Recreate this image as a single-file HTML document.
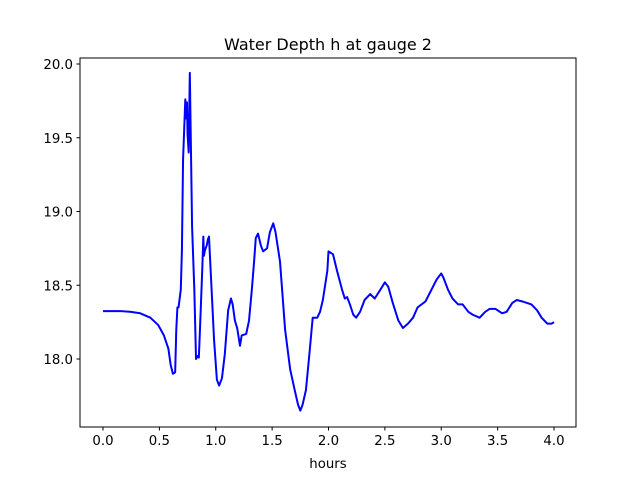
<!DOCTYPE html>
<html><head><meta charset="utf-8"><style>
body{margin:0;background:#fff}
svg{display:block;font-family:"DejaVu Sans","Liberation Sans",sans-serif}
</style></head><body>
<svg id="chart" width="640" height="480" viewBox="0 0 640 480">
<rect width="640" height="480" fill="#fff"/>
<text x="328" y="50" text-anchor="middle" font-size="16">Water Depth h at gauge 2</text>
<text x="328" y="468" text-anchor="middle" font-size="13.3">hours</text>
<g id="plot"></g>
<rect x="80" y="58" width="496" height="369" fill="none" stroke="#000" stroke-width="1"/>
</svg>
<script>
const hours=[0,0.15,0.24,0.33,0.42,0.49,0.54,0.58,0.60,0.62,0.64,0.65,0.66,0.67,0.69,0.70,0.71,0.73,0.74,0.745,0.75,0.76,0.77,0.78,0.79,0.81,0.825,0.84,0.85,0.86,0.88,0.89,0.895,0.905,0.92,0.93,0.94,0.96,0.985,1.01,1.03,1.055,1.08,1.11,1.135,1.15,1.17,1.19,1.215,1.23,1.27,1.295,1.32,1.34,1.355,1.375,1.40,1.42,1.455,1.48,1.51,1.53,1.57,1.615,1.66,1.70,1.73,1.75,1.77,1.80,1.83,1.86,1.90,1.925,1.95,1.99,2.00,2.04,2.075,2.12,2.145,2.165,2.19,2.22,2.245,2.28,2.32,2.37,2.41,2.46,2.50,2.53,2.57,2.62,2.66,2.705,2.75,2.79,2.86,2.90,2.96,3.00,3.02,3.06,3.10,3.15,3.19,3.24,3.28,3.34,3.39,3.43,3.48,3.54,3.58,3.63,3.67,3.72,3.76,3.80,3.85,3.89,3.94,3.98,4.00];
const depth=[18.325,18.325,18.32,18.31,18.28,18.23,18.16,18.07,17.96,17.90,17.91,18.20,18.35,18.35,18.47,18.74,19.35,19.76,19.63,19.74,19.52,19.40,19.94,19.42,18.90,18.47,18.0,18.02,18.01,18.20,18.60,18.83,18.70,18.74,18.77,18.81,18.83,18.52,18.13,17.86,17.82,17.87,18.03,18.33,18.41,18.37,18.26,18.21,18.09,18.16,18.17,18.26,18.47,18.66,18.82,18.85,18.77,18.73,18.75,18.86,18.92,18.86,18.66,18.20,17.93,17.79,17.69,17.65,17.69,17.79,18.03,18.28,18.28,18.32,18.40,18.60,18.73,18.71,18.60,18.47,18.41,18.42,18.37,18.30,18.28,18.32,18.40,18.44,18.41,18.47,18.52,18.49,18.38,18.26,18.21,18.24,18.28,18.35,18.39,18.45,18.54,18.58,18.55,18.47,18.41,18.37,18.37,18.32,18.30,18.28,18.32,18.34,18.34,18.31,18.32,18.38,18.40,18.39,18.38,18.37,18.33,18.28,18.24,18.24,18.25];
const xTicks=[0,0.5,1,1.5,2,2.5,3,3.5,4];
const xTickLabels=["0.0","0.5","1.0","1.5","2.0","2.5","3.0","3.5","4.0"];
const yTicks=[18,18.5,19,19.5,20];
const yTickLabels=["18.0","18.5","19.0","19.5","20.0"];
const NS="http://www.w3.org/2000/svg";
const xs=v=>103+v*112.75;
const ys=v=>359-(v-18)*147.5;
const g=document.getElementById('plot');
function mk(t,a){const e=document.createElementNS(NS,t);for(const k in a)e.setAttribute(k,a[k]);g.appendChild(e);return e;}
xTicks.forEach((v,i)=>{
 const l=mk('line',{x1:xs(v),x2:xs(v),y1:427,y2:430.5,stroke:'#000'});
 
 
 const t=mk('text',{x:xs(v),y:445,'text-anchor':'middle','font-size':'13.3'});
 t.textContent=xTickLabels[i];
 
 
});
yTicks.forEach((v,i)=>{
 const l=mk('line',{x1:76.5,x2:80,y1:ys(v),y2:ys(v),stroke:'#000'});
 
 
 const t=mk('text',{x:73,y:ys(v)+5,'text-anchor':'end','font-size':'13.3'});
 t.textContent=yTickLabels[i];
 
 
});
const p=mk('polyline',{points:hours.map((h,i)=>xs(h)+','+ys(depth[i])).join(' '),fill:'none',stroke:'#0000ff','stroke-width':2,'stroke-linejoin':'round'});


</script>
</body></html>
